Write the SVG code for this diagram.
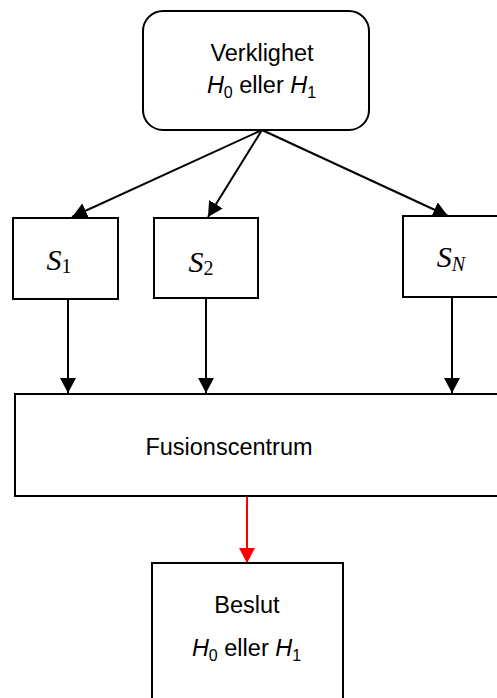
<svg xmlns="http://www.w3.org/2000/svg" width="497" height="698" viewBox="0 0 497 698">
<style>
.box{fill:#fff;stroke:#000;stroke-width:2}
.lbl{font-family:"Liberation Sans",Arial,sans-serif;font-size:23.5px;fill:#000;text-anchor:middle}
.sym{font-family:"Liberation Serif","Times New Roman",serif;font-size:30px;fill:#000;text-anchor:middle}
.it{font-style:italic}
.sub{font-size:16px}
.ssub{font-size:20px;font-style:normal}
.nsub{font-size:20px;font-style:italic}
.con{stroke:#000;stroke-width:2;fill:none;marker-end:url(#ah)}
.red{stroke:#ff0000;stroke-width:2;fill:none;marker-end:url(#ahr)}
</style>
<defs>
<marker id="ah" markerUnits="userSpaceOnUse" markerWidth="16" markerHeight="16" viewBox="0 0 16 16" refX="15" refY="8" orient="auto"><path d="M0,0 L15,8 L0,16 z" fill="#000"/></marker>
<marker id="ahr" markerUnits="userSpaceOnUse" markerWidth="16" markerHeight="16" viewBox="0 0 16 16" refX="15" refY="8" orient="auto"><path d="M0,0 L15,8 L0,16 z" fill="#ff0000"/></marker>
</defs>
<rect width="497" height="698" fill="#fff"/>
<g id="connectors">
<line class="con" x1="262" y1="130" x2="72" y2="217"/>
<line class="con" x1="262" y1="130" x2="208" y2="217"/>
<line class="con" x1="262" y1="130" x2="448" y2="216"/>
<line class="con" x1="68" y1="299" x2="68" y2="393"/>
<line class="con" x1="206" y1="298" x2="206" y2="393"/>
<line class="con" x1="452" y1="297" x2="452" y2="393"/>
<line class="red" x1="247" y1="496" x2="247" y2="563"/>
</g>
<g id="verklighet">
<rect class="box" x="143" y="11" width="226" height="119" rx="20" ry="20"/>
<text class="lbl" x="262" y="61">Verklighet</text>
<text class="lbl" x="261.5" y="93"><tspan class="it">H</tspan><tspan class="sub" dy="5">0</tspan><tspan dy="-5"> eller </tspan><tspan class="it">H</tspan><tspan class="sub" dy="5">1</tspan></text>
</g>
<g id="s1">
<rect class="box" x="13" y="218" width="105" height="81"/>
<text class="sym" x="59" y="270"><tspan class="it">S</tspan><tspan class="ssub" dy="3">1</tspan></text>
</g>
<g id="s2">
<rect class="box" x="154" y="218" width="104" height="80"/>
<text class="sym" x="201" y="272"><tspan class="it">S</tspan><tspan class="ssub" dy="3">2</tspan></text>
</g>
<g id="sn">
<rect class="box" x="403" y="216" width="110" height="81"/>
<text class="sym" x="451" y="267"><tspan class="it">S</tspan><tspan class="nsub" dy="4">N</tspan></text>
</g>
<g id="fusionscentrum">
<rect class="box" x="15" y="394" width="500" height="102"/>
<text class="lbl" x="229" y="455">Fusionscentrum</text>
</g>
<g id="beslut">
<rect class="box" x="152" y="563" width="191" height="150"/>
<text class="lbl" x="247" y="613">Beslut</text>
<text class="lbl" x="246.5" y="656"><tspan class="it">H</tspan><tspan class="sub" dy="5">0</tspan><tspan dy="-5"> eller </tspan><tspan class="it">H</tspan><tspan class="sub" dy="5">1</tspan></text>
</g>
</svg>
